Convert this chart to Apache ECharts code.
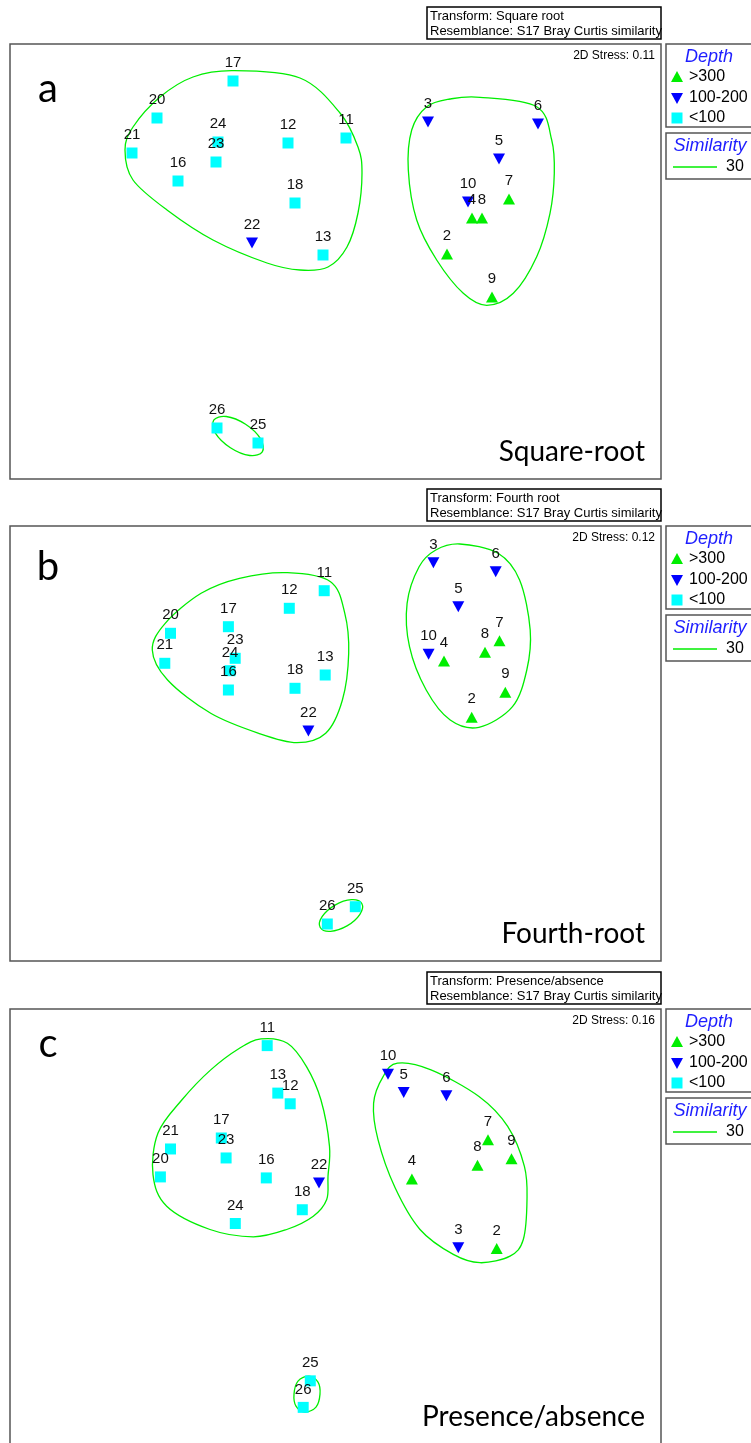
<!DOCTYPE html>
<html><head><meta charset="utf-8">
<script src="https://cdn.jsdelivr.net/npm/echarts@6/dist/echarts.min.js"></script>
<style>html,body{margin:0;padding:0;background:#fff}#chart{width:751px;height:1443px}</style>
</head><body><div id="chart"></div>
<script>
// ---------------- DATA ----------------
const sampleIds = ['2','3','4','5','6','7','8','9','10','11','12','13','16','17','18','20','21','22','23','24','25','26'];
const depthClass = ['>300','100-200','>300','100-200','100-200','>300','>300','>300','100-200','<100','<100','<100','<100','<100','<100','<100','<100','100-200','<100','<100','<100','<100'];
const depthLegend = ['>300','100-200','<100'];
const similarityLevel = '30';

const panelLetters = ['a','b','c'];
const transformNames = ['Square root','Fourth root','Presence/absence'];
const resemblanceName = 'S17 Bray Curtis similarity';
const stressValues = ['0.11','0.12','0.16'];
const captions = ['Square-root','Fourth-root','Presence/absence'];

// nMDS coordinates, same order as sampleIds
const sqrtX = [1.115,0.925,1.365,1.635,2.025,1.735,1.465,1.565,1.325,0.105,-0.475,-0.125,-1.575,-1.025,-0.405,-1.785,-2.035,-0.835,-1.195,-1.175,-0.775,-1.185];
const sqrtY = [0.075,1.395,0.435,1.025,1.375,0.625,0.435,-0.355,0.595,1.235,1.185,0.065,0.805,1.805,0.585,1.435,1.085,0.185,0.995,1.195,-1.815,-1.665];
const fourthX = [1.362,0.979,1.085,1.228,1.602,1.64,1.495,1.698,0.931,-0.113,-0.462,-0.103,-1.071,-1.071,-0.405,-1.65,-1.707,-0.271,-1.003,-1.055,0.198,-0.082];
const fourthY = [0.262,1.808,0.825,1.368,1.718,1.028,0.912,0.512,0.892,1.528,1.352,0.685,0.535,1.168,0.552,1.102,0.802,0.125,0.852,0.728,-1.632,-1.805];
const paX = [1.612,1.228,0.764,0.682,1.109,1.525,1.42,1.76,0.525,-0.683,-0.453,-0.577,-0.692,-1.142,-0.332,-1.751,-1.65,-0.165,-1.094,-1.002,-0.252,-0.323];
const paY = [-0.225,-0.218,0.472,1.338,1.305,0.865,0.608,0.675,1.522,1.808,1.225,1.332,0.482,0.882,0.163,0.492,0.772,0.432,0.682,0.025,-1.552,-1.818];

// 30% similarity contours (points along each outline)
const sqrtContours = [
  [[-1.025,1.908],[-0.355,1.835],[0.045,1.485],[0.225,1.145],[0.265,0.885],[0.225,0.485],[0.115,0.145],[-0.075,-0.055],[-0.355,-0.085],[-0.685,-0.015],[-1.225,0.215],[-1.685,0.515],[-2.025,0.815],[-2.105,1.115],[-2.025,1.345],[-1.755,1.645],[-1.425,1.845]],
  [[1.445,1.642],[2.012,1.548],[2.162,1.215],[2.188,0.882],[2.145,0.482],[2.012,0.048],[1.778,-0.318],[1.512,-0.438],[1.278,-0.318],[1.012,0.015],[0.812,0.415],[0.728,0.915],[0.762,1.315],[0.912,1.548],[1.145,1.625]],
  [[-0.732,-1.903],[-0.857,-1.94],[-1.051,-1.862],[-1.201,-1.716],[-1.218,-1.587],[-1.093,-1.55],[-0.899,-1.628],[-0.749,-1.774]]
];
const fourthContours = [
  [[-0.481,1.708],[-0.05,1.618],[0.093,1.302],[0.132,0.902],[0.069,0.435],[-0.098,0.102],[-0.386,0.008],[-0.769,0.102],[-1.248,0.302],[-1.679,0.635],[-1.832,0.935],[-1.703,1.202],[-1.344,1.502],[-0.96,1.652]],
  [[1.243,1.995],[1.626,1.902],[1.841,1.635],[1.947,1.135],[1.913,0.735],[1.77,0.368],[1.434,0.162],[1.147,0.235],[0.907,0.535],[0.74,0.968],[0.716,1.402],[0.836,1.768],[1.003,1.935]],
  [[0.263,-1.6],[0.244,-1.708],[0.115,-1.824],[-0.05,-1.878],[-0.153,-1.84],[-0.134,-1.732],[-0.005,-1.616],[0.16,-1.562]]
];
const paContours = [
  [[-0.745,1.875],[-0.481,1.832],[-0.29,1.598],[-0.146,1.265],[-0.06,0.798],[-0.075,0.498],[-0.088,0.265],[-0.222,0.098],[-0.488,-0.035],[-0.822,-0.108],[-1.255,-0.035],[-1.688,0.198],[-1.825,0.515],[-1.775,0.932],[-1.535,1.265],[-1.248,1.565],[-0.96,1.782]],
  [[0.62,1.632],[0.955,1.565],[1.435,1.298],[1.722,0.998],[1.889,0.598],[1.915,0.265],[1.878,-0.135],[1.745,-0.302],[1.445,-0.368],[1.178,-0.285],[0.845,-0.035],[0.595,0.385],[0.425,0.865],[0.381,1.232],[0.476,1.498]],
  [[-0.265,-1.505],[-0.175,-1.565],[-0.155,-1.685],[-0.195,-1.815],[-0.305,-1.865],[-0.395,-1.805],[-0.415,-1.685],[-0.375,-1.555]]
];

const panelCoords = [[sqrtX,sqrtY],[fourthX,fourthY],[paX,paY]];
const panelContours = [sqrtContours, fourthContours, paContours];

// ---------------- STYLE / LAYOUT ----------------
const PLOT_LEFT = 10, PLOT_W = 651, PLOT_H = 435;
const PANEL_TOPS = [44, 526, 1009];
const OPEN_BOTTOM = [false, false, true];        // last panel's frame runs off the page
const X_RANGE = [-3.255, 3.255], Y_RANGE = [-2.175, 2.175];
const GREEN = '#00ee00', BLUE = '#0000ff', CYAN = '#00ffff';
const FRAME = '#555';
const depthStyle = {
  '>300':    {symbol:'triangle', size:[12,11], rotate:0, color:GREEN},
  '100-200': {symbol:'triangle', size:[12,11], rotate:180, color:BLUE},
  '<100':    {symbol:'rect', size:11, rotate:0, color:CYAN}
};
const LABEL_FONT = 'Liberation Sans, Arial, sans-serif';
const CAPTION_FONT = 'Lato, Open Sans, sans-serif';
const letterDy = [45, 41, 35];

function closedSplinePath(pts){
  const n = pts.length;
  let d = 'M' + pts[0][0] + ' ' + pts[0][1];
  for (let i = 0; i < n; i++){
    const p0 = pts[(i-1+n)%n], p1 = pts[i], p2 = pts[(i+1)%n], p3 = pts[(i+2)%n];
    const c1 = [p1[0] + (p2[0]-p0[0])/6, p1[1] + (p2[1]-p0[1])/6];
    const c2 = [p2[0] - (p3[0]-p1[0])/6, p2[1] - (p3[1]-p1[1])/6];
    d += ' C' + c1[0] + ' ' + c1[1] + ' ' + c2[0] + ' ' + c2[1] + ' ' + p2[0] + ' ' + p2[1];
  }
  return d + ' Z';
}

const grids = [], xAxes = [], yAxes = [], series = [], graphics = [];

PANEL_TOPS.forEach((top, pi) => {
  grids.push({left: PLOT_LEFT, top: top, width: PLOT_W, height: PLOT_H, show: !OPEN_BOTTOM[pi],
    borderColor: FRAME, borderWidth: 1.5, backgroundColor: 'transparent'});
  if (OPEN_BOTTOM[pi]) {
    graphics.push({type:'polyline', z: 5, silent: true,
      shape:{points:[[PLOT_LEFT, top+PLOT_H+10],[PLOT_LEFT, top],[PLOT_LEFT+PLOT_W, top],[PLOT_LEFT+PLOT_W, top+PLOT_H+10]]},
      style:{stroke: FRAME, lineWidth: 1.5, fill: 'none'}});
  }
  xAxes.push({type:'value', gridIndex: pi, min: X_RANGE[0], max: X_RANGE[1], show: false});
  yAxes.push({type:'value', gridIndex: pi, min: Y_RANGE[0], max: Y_RANGE[1], show: false});

  const contours = panelContours[pi];
  series.push({
    type: 'custom', xAxisIndex: pi, yAxisIndex: pi, silent: true, clip: false, z: 1,
    data: contours.map(c => [c[0][0], c[0][1]]),
    renderItem: function(params, api){
      const pts = contours[params.dataIndex].map(p => api.coord(p));
      return {type:'path', shape:{pathData: closedSplinePath(pts)},
        style:{fill:'none', stroke: GREEN, lineWidth: 1.3}};
    }
  });

  const [xs, ys] = panelCoords[pi];
  depthLegend.forEach(cls => {
    const st = depthStyle[cls];
    const data = [];
    sampleIds.forEach((id, i) => { if (depthClass[i] === cls) data.push([xs[i], ys[i], id]); });
    series.push({
      type: 'scatter', name: cls, xAxisIndex: pi, yAxisIndex: pi, z: 3,
      symbol: st.symbol, symbolSize: st.size, symbolRotate: st.rotate,
      itemStyle: {color: st.color, opacity: 1},
      label: {show: true, position: 'top', distance: 5, formatter: p => p.value[2],
        fontFamily: LABEL_FONT, fontSize: 15, color: '#111'},
      labelLayout: {hideOverlap: false},
      data: data
    });
  });

  // transform box
  graphics.push({type:'rect', shape:{x:427, y: top-37, width:234, height:32},
    style:{fill:'#fff', stroke:'#000', lineWidth:1.5}, z: 10});
  graphics.push({type:'text', x:430, y: top-28, z: 11,
    style:{text:'Transform: ' + transformNames[pi], font:'13px ' + LABEL_FONT, fill:'#000',
      textAlign:'left', textVerticalAlign:'middle', align:'left', verticalAlign:'middle'}});
  graphics.push({type:'text', x:430, y: top-13, z: 11,
    style:{text:'Resemblance: ' + resemblanceName, font:'13px ' + LABEL_FONT, fill:'#000',
      textAlign:'left', textVerticalAlign:'middle', align:'left', verticalAlign:'middle'}});
  // stress
  graphics.push({type:'text', x:655, y: top+12, z: 11,
    style:{text:'2D Stress: ' + stressValues[pi], font:'12px ' + LABEL_FONT, fill:'#000',
      textAlign:'right', textVerticalAlign:'middle', align:'right', verticalAlign:'middle'}});
  // panel letter
  graphics.push({type:'text', x:48, y: top + letterDy[pi], z: 11,
    style:{text: panelLetters[pi], font:'40px ' + CAPTION_FONT, fill:'#000',
      textAlign:'center', textVerticalAlign:'middle', align:'center', verticalAlign:'middle'}});
  // caption
  graphics.push({type:'text', x:645, y: top + 408, z: 11,
    style:{text: captions[pi], font:'28px ' + CAPTION_FONT, fill:'#000',
      textAlign:'right', textVerticalAlign:'middle', align:'right', verticalAlign:'middle'}});

  // Depth legend box
  graphics.push({type:'rect', shape:{x:666, y: top, width:100, height:83},
    style:{fill:'#fff', stroke: FRAME, lineWidth:1.5}, z: 10});
  graphics.push({type:'text', x:709, y: top+13, z: 11,
    style:{text:'Depth', font:'italic 18px ' + LABEL_FONT, fill:'#1e1eff',
      textAlign:'center', textVerticalAlign:'middle', align:'center', verticalAlign:'middle'}});
  const itemY = [top+33, top+54, top+74];
  depthLegend.forEach((cls, k) => {
    const y = itemY[k], cx = 677;
    let shape;
    if (cls === '>300') shape = {type:'polygon', shape:{points:[[cx,y-6],[cx+6,y+5],[cx-6,y+5]]}, style:{fill:GREEN}};
    else if (cls === '100-200') shape = {type:'polygon', shape:{points:[[cx-6,y-5],[cx+6,y-5],[cx,y+6]]}, style:{fill:BLUE}};
    else shape = {type:'rect', shape:{x:cx-5.5, y:y-5.5, width:11, height:11}, style:{fill:CYAN}};
    shape.z = 11;
    graphics.push(shape);
    graphics.push({type:'text', x:689, y: y, z: 11,
      style:{text: cls, font:'16px ' + LABEL_FONT, fill:'#000',
        textAlign:'left', textVerticalAlign:'middle', align:'left', verticalAlign:'middle'}});
  });
  // Similarity legend box
  graphics.push({type:'rect', shape:{x:666, y: top+89, width:100, height:46},
    style:{fill:'#fff', stroke: FRAME, lineWidth:1.5}, z: 10});
  graphics.push({type:'text', x:710, y: top+102, z: 11,
    style:{text:'Similarity', font:'italic 18px ' + LABEL_FONT, fill:'#1e1eff',
      textAlign:'center', textVerticalAlign:'middle', align:'center', verticalAlign:'middle'}});
  graphics.push({type:'line', shape:{x1:673, y1: top+123, x2:717, y2: top+123}, z: 11,
    style:{stroke: GREEN, lineWidth: 1.3}});
  graphics.push({type:'text', x:726, y: top+123, z: 11,
    style:{text: similarityLevel, font:'16px ' + LABEL_FONT, fill:'#000',
      textAlign:'left', textVerticalAlign:'middle', align:'left', verticalAlign:'middle'}});
});

const chart = echarts.init(document.getElementById('chart'), null, {renderer:'canvas'});
chart.setOption({
  animation: false,
  backgroundColor: '#fff',
  grid: grids, xAxis: xAxes, yAxis: yAxes,
  series: series,
  graphic: {elements: graphics}
});
</script>
</body></html>
